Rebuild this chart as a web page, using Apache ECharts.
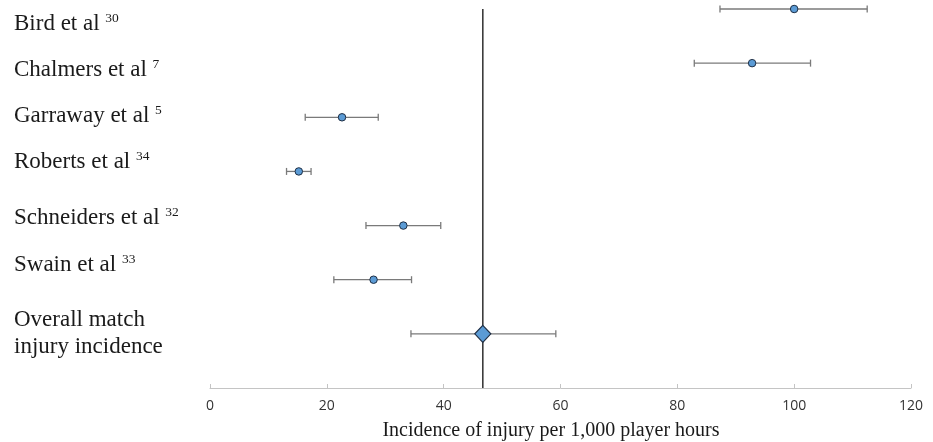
<!DOCTYPE html>
<html><head><meta charset="utf-8">
<script src="https://cdn.jsdelivr.net/npm/echarts@6/dist/echarts.min.js"></script>
<style>html,body{margin:0;padding:0;background:#fff}#c{width:933px;height:442px}</style>
</head><body><div id="c"></div>
<script>
// ---- data ----
const studies = ['Bird et al', 'Chalmers et al', 'Garraway et al', 'Roberts et al', 'Schneiders et al', 'Swain et al', 'Overall match\ninjury incidence'];
const refs = ['30', '7', '5', '34', '32', '33', ''];
const incidence = [100.0, 92.8, 22.6, 15.2, 33.1, 28.0, 46.7];
const ciLow = [87.3, 82.9, 16.3, 13.1, 26.7, 21.2, 34.4];
const ciHigh = [112.5, 102.8, 28.8, 17.3, 39.5, 34.5, 59.2];
const xTicks = [0, 20, 40, 60, 80, 100, 120];
const xTitle = 'Incidence of injury per 1,000 player hours';

// ---- layout (not data) ----
const labelCenters = [24, 70, 116, 162, 218, 265, 333.5];
const serif = "'Liberation Serif','Times New Roman',serif";

const nStudies = studies.length - 1;
const overallIdx = studies.length - 1;

const studyPoints = [];
for (let i = 0; i < nStudies; i++) studyPoints.push([incidence[i], i]);
const overallPoint = [[incidence[overallIdx], overallIdx]];
const bars = studies.map((s, i) => [ciLow[i], ciHigh[i], i]);

const chart = echarts.init(document.getElementById('c'), null, {renderer: 'canvas'});
chart.setOption({
  animation: false,
  backgroundColor: '#fff',
  grid: {left: 210, right: 22, top: 9, bottom: 54, containLabel: false, outerBoundsMode: 'none'},
  xAxis: {
    type: 'value',
    position: 'bottom',
    min: xTicks[0], max: xTicks[xTicks.length - 1], interval: xTicks[1] - xTicks[0],
    splitLine: {show: false},
    axisLine: {show: true, onZero: false, lineStyle: {color: '#c4c4c4', width: 1}},
    axisTick: {show: true, inside: true, length: 4, lineStyle: {color: '#c4c4c4'}},
    axisLabel: {fontFamily: "'Open Sans','Noto Sans',sans-serif", fontSize: 14, color: '#333333', margin: 11},
    name: xTitle,
    nameLocation: 'middle',
    nameGap: 33,
    nameTextStyle: {fontFamily: serif, fontSize: 20, color: '#1a1a1a', padding: [0, 19, 0, 0]}
  },
  yAxis: {
    type: 'value', min: 0, max: studies.length, inverse: true, show: false
  },
  graphic: studies.map((s, i) => ({
    type: 'text',
    x: 14,
    y: labelCenters[i],
    style: {
      text: refs[i] ? s + ' {sup|' + refs[i] + '}' : s,
      fontFamily: serif,
      fontSize: 23,
      lineHeight: refs[i] ? 26 : 27,
      fill: '#1a1a1a',
      align: 'left',
      verticalAlign: 'middle',
      rich: {
        sup: {fontFamily: serif, fontSize: 13.5, lineHeight: 16, verticalAlign: 'top', fill: '#1a1a1a'}
      }
    }
  })),
  series: [
    {
      type: 'line',
      data: [[incidence[overallIdx], 0], [incidence[overallIdx], studies.length]],
      symbol: 'none',
      lineStyle: {color: '#3c3c3c', width: 1.6},
      z: 1,
      silent: true
    },
    {
      type: 'custom',
      data: bars,
      z: 2,
      renderItem: function (params, api) {
        const lo = api.coord([api.value(0), api.value(2)]);
        const hi = api.coord([api.value(1), api.value(2)]);
        const h = 3.5;
        const st = {stroke: '#7a7a7a', lineWidth: 1.3};
        return {
          type: 'group',
          children: [
            {type: 'line', shape: {x1: lo[0], y1: lo[1], x2: hi[0], y2: hi[1]}, style: st},
            {type: 'line', shape: {x1: lo[0], y1: lo[1] - h, x2: lo[0], y2: lo[1] + h}, style: st},
            {type: 'line', shape: {x1: hi[0], y1: hi[1] - h, x2: hi[0], y2: hi[1] + h}, style: st}
          ]
        };
      }
    },
    {
      type: 'scatter',
      data: studyPoints,
      symbol: 'circle',
      symbolSize: 7.5,
      clip: false,
      z: 3,
      itemStyle: {color: '#5b9bd5', borderColor: '#1f2f45', borderWidth: 1, opacity: 1}
    },
    {
      type: 'scatter',
      data: overallPoint,
      symbol: 'diamond',
      symbolSize: [16, 17],
      clip: false,
      z: 3,
      itemStyle: {color: '#5b9bd5', borderColor: '#1f2f45', borderWidth: 1.2, opacity: 1}
    }
  ]
});
</script>
</body></html>
